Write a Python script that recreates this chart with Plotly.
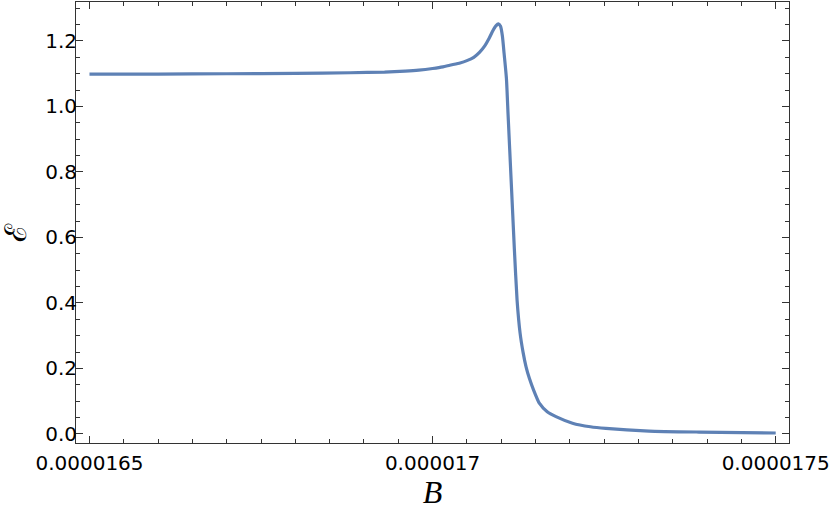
import plotly.graph_objects as go

B_vals = [1.65000e-5, 1.66000e-5, 1.67000e-5, 1.68000e-5, 1.68800e-5, 1.69300e-5,
          1.69600e-5, 1.69800e-5, 1.70000e-5, 1.70150e-5, 1.70250e-5, 1.70400e-5,
          1.70500e-5, 1.70600e-5, 1.70683e-5, 1.70760e-5, 1.70828e-5, 1.70880e-5,
          1.70925e-5, 1.70959e-5, 1.70990e-5, 1.71017e-5, 1.71045e-5, 1.71076e-5,
          1.71100e-5, 1.71124e-5, 1.71158e-5, 1.71192e-5, 1.71231e-5, 1.71275e-5,
          1.71318e-5, 1.71362e-5, 1.71410e-5, 1.71472e-5, 1.71555e-5, 1.71670e-5,
          1.71798e-5, 1.72039e-5, 1.72300e-5, 1.72525e-5, 1.73154e-5, 1.73881e-5,
          1.75000e-5]
E_vals = [1.099, 1.099, 1.100, 1.101, 1.103, 1.105,
          1.108, 1.111, 1.116, 1.121, 1.126, 1.133,
          1.140, 1.150, 1.165, 1.185, 1.210, 1.232,
          1.247, 1.252, 1.245, 1.215, 1.155, 1.085,
          0.975, 0.867, 0.715, 0.562, 0.409, 0.308,
          0.250, 0.205, 0.170, 0.134, 0.094, 0.068,
          0.053, 0.033, 0.022, 0.017, 0.009, 0.006,
          0.003]

x_tickvals = [1.65e-5, 1.70e-5, 1.75e-5]
x_ticktext = ["0.0000165", "0.000017", "0.0000175"]
y_tickvals = [0.0, 0.2, 0.4, 0.6, 0.8, 1.0, 1.2]
y_ticktext = ["0.0", "0.2", "0.4", "0.6", "0.8", "1.0", "1.2"]

frame_col = "#333333"
tick_font = dict(family="DejaVu Sans, Liberation Sans, sans-serif", size=20, color="black")

fig = go.Figure()
fig.add_trace(go.Scatter(x=B_vals, y=E_vals, mode="lines",
                         line=dict(color="#5E81B5", width=3.2, shape="spline", smoothing=0.5),
                         showlegend=False))

fig.update_layout(
    width=830, height=510,
    margin=dict(l=76, r=41, t=2, b=67, autoexpand=False),
    plot_bgcolor="white", paper_bgcolor="white",
    xaxis=dict(range=[1.648035e-5, 1.751936e-5], showgrid=False, zeroline=False,
               automargin=False,
               showline=True, linecolor=frame_col, linewidth=1, mirror="ticks",
               ticks="inside", ticklen=7, tickwidth=1, tickcolor=frame_col,
               tickmode="array", tickvals=x_tickvals, ticktext=x_ticktext,
               tickfont=tick_font, ticklabelstandoff=2,
               minor=dict(dtick=5e-8, tick0=1.65e-5, ticks="inside", ticklen=4,
                          tickwidth=1, tickcolor=frame_col, showgrid=False),
               title=dict(text="<i>B</i>", font=dict(family="Liberation Serif, serif", size=32, color="black"),
                          standoff=4)),
    yaxis=dict(range=[-0.0275, 1.319], showgrid=False, zeroline=False,
               automargin=False,
               showline=True, linecolor=frame_col, linewidth=1, mirror="ticks",
               ticks="inside", ticklen=7, tickwidth=1, tickcolor=frame_col,
               tickmode="array", tickvals=y_tickvals, ticktext=y_ticktext,
               tickfont=tick_font, ticklabelstandoff=-6,
               minor=dict(dtick=0.05, tick0=0, ticks="inside", ticklen=4,
                          tickwidth=1, tickcolor=frame_col, showgrid=False)),
    annotations=[dict(text="ℰ", xref="paper", yref="paper", x=-0.085, y=0.476,
                      xanchor="center", yanchor="middle", textangle=-90, showarrow=False,
                      font=dict(family="Liberation Serif, DejaVu Serif, serif", size=30, color="black"))],
)

fig.write_html("out.html", config={"displayModeBar": False},
               post_script="document.body.style.margin='0';document.body.style.padding='0';")
